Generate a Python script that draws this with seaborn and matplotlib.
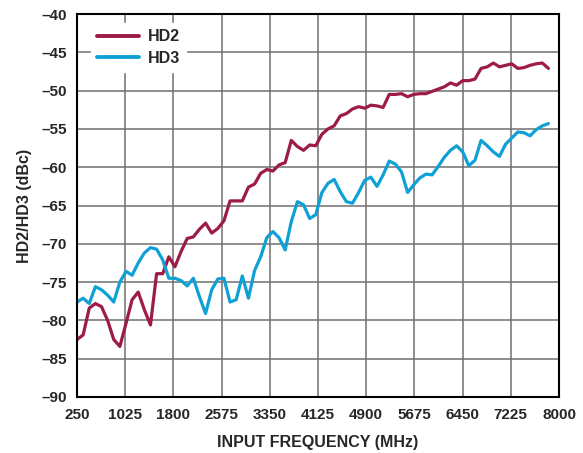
import numpy as np
import pandas as pd
import matplotlib
matplotlib.use("Agg")
import matplotlib.pyplot as plt
import seaborn as sns

# ---- data ----
freq_start = 250
freq_end = 7830
hd2 = [-82.5, -81.9, -78.4, -77.8, -78.2, -80.0, -82.5, -83.4, -80.4, -77.3,
       -76.3, -78.6, -80.6, -73.9, -73.9, -71.7, -73.0, -71.0, -69.3, -69.1,
       -68.1, -67.3, -68.6, -68.0, -67.0, -64.4, -64.4, -64.4, -62.6, -62.2,
       -60.8, -60.3, -60.5, -59.7, -59.4, -56.5, -57.3, -57.8, -57.1, -57.2,
       -55.7, -55.0, -54.6, -53.3, -53.0, -52.4, -52.1, -52.3, -51.9, -52.0,
       -52.2, -50.5, -50.5, -50.4, -50.8, -50.5, -50.4, -50.4, -50.1, -49.8,
       -49.5, -49.0, -49.3, -48.7, -48.7, -48.5, -47.1, -46.9, -46.4, -46.9,
       -46.7, -46.5, -47.1, -47.0, -46.7, -46.5, -46.4, -47.1]
hd3 = [-77.6, -77.1, -77.8, -75.6, -76.0, -76.7, -77.6, -75.0, -73.6, -74.1,
       -72.5, -71.2, -70.5, -70.7, -72.1, -74.5, -74.5, -74.8, -75.5, -74.5,
       -76.9, -79.1, -76.0, -74.6, -74.5, -77.6, -77.3, -74.2, -77.1, -73.5,
       -71.7, -69.2, -68.4, -69.2, -70.8, -67.1, -64.5, -64.9, -66.7, -66.2,
       -63.3, -62.1, -61.6, -63.2, -64.5, -64.7, -63.3, -61.7, -61.3, -62.5,
       -61.0, -59.2, -59.6, -60.6, -63.3, -62.3, -61.4, -60.9, -61.0, -59.9,
       -58.7, -57.8, -57.2, -58.0, -59.8, -59.1, -56.5, -57.2, -58.0, -58.6,
       -57.0, -56.2, -55.4, -55.5, -55.9, -55.1, -54.6, -54.3]
freq = np.linspace(freq_start, freq_end, len(hd2))

x_ticks = [250, 1025, 1800, 2575, 3350, 4125, 4900, 5675, 6450, 7225, 8000]
y_ticks = [-90, -85, -80, -75, -70, -65, -60, -55, -50, -45, -40]
series_names = ["HD2", "HD3"]
colors = {"HD2": "#9C1B47", "HD3": "#0FA0D5"}

df = pd.concat([
    pd.DataFrame({"freq": freq, "val": hd2, "series": "HD2"}),
    pd.DataFrame({"freq": freq, "val": hd3, "series": "HD3"}),
])

sns.set_style("white")
plt.rcParams["font.family"] = ["Liberation Sans", "DejaVu Sans"]
plt.rcParams["font.weight"] = "bold"

fig = plt.figure(figsize=(5.83, 4.53), dpi=100)
ax = fig.add_axes([77 / 583, 1 - 397 / 453, (559 - 77) / 583, (397 - 14) / 453])

sns.lineplot(data=df, x="freq", y="val", hue="series", hue_order=series_names,
             palette=colors, linewidth=2.3, ax=ax, legend=True)

ax.set_xlim(250, 8000)
ax.set_ylim(-90, -40)
ax.set_xticks(x_ticks)
ax.set_yticks(y_ticks)
ax.set_xticklabels([str(t) for t in x_ticks], fontsize=11, fontweight="bold")
ax.set_yticklabels([str(t).replace("-", "\u2013") for t in y_ticks],
                   fontsize=11, fontweight="bold")
ax.tick_params(axis="x", length=0, pad=8)
ax.tick_params(axis="y", length=0, pad=7)
ax.grid(True, color="#707070", linewidth=1.1)
ax.set_axisbelow(True)
for s in ax.spines.values():
    s.set_color("black")
    s.set_linewidth(1.5)

ax.set_xlabel("INPUT FREQUENCY (MHz)", fontsize=11.5, fontweight="bold", labelpad=9)
ax.set_ylabel("HD2/HD3 (dBc)", fontsize=11.5, fontweight="bold", labelpad=7)

leg = ax.legend(loc="upper left", bbox_to_anchor=(0.0124, 0.998), frameon=True,
                fancybox=False, framealpha=1, edgecolor="white", facecolor="white",
                fontsize=11.5, handlelength=2.6, handletextpad=0.55, borderpad=0.4,
                labelspacing=0.4, title=None)
for t in leg.get_texts():
    t.set_fontweight("bold")
for l in leg.get_lines():
    l.set_linewidth(2.8)

fig.savefig("out.png", dpi=100)
